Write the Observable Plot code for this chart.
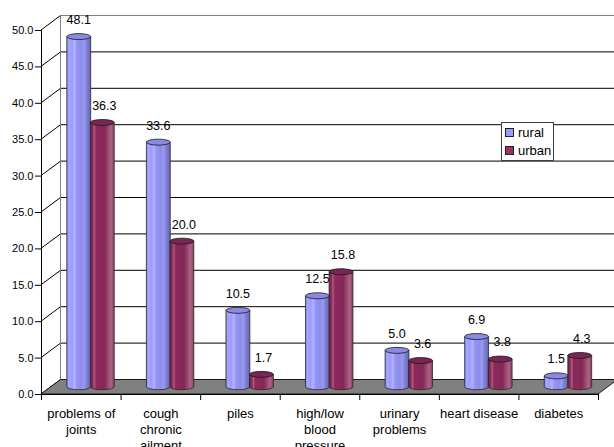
<!DOCTYPE html>
<html>
<head>
<meta charset="utf-8">
<script src="https://cdn.jsdelivr.net/npm/d3@7"></script>
<script src="https://cdn.jsdelivr.net/npm/@observablehq/plot@0.6"></script>
<style>
  body { margin: 0; background: #fff; font-family: "Liberation Sans", Arial, sans-serif; }
  #chart { position: relative; width: 614px; height: 447px; }
  .legend { position: absolute; left: 501px; top: 122px; width: 51px; height: 37px;
            border: 1px solid #404040; background: #fff; font-size: 13px; color: #000; }
  .legend .row { display: flex; align-items: center; height: 18px; padding-left: 3px; }
  .legend .sw { width: 7px; height: 7px; border: 1px solid #222; margin-right: 4px; }
</style>
</head>
<body>
<div id="chart"></div>
<script>
// Share of reported illness (%), rural vs urban
const categories = [
  "problems of\njoints",
  "cough\nchronic\nailment",
  "piles",
  "high/low\nblood\npressure",
  "urinary\nproblems",
  "heart disease",
  "diabetes"
];
const seriesNames = ["rural", "urban"];
const rural = [48.1, 33.6, 10.5, 12.5, 5.0, 6.9, 1.5];
const urban = [36.3, 20.0, 1.7, 15.8, 3.6, 3.8, 4.3];
const yTicks = [0, 5, 10, 15, 20, 25, 30, 35, 40, 45, 50];
const seriesColors = ["#9999ff", "#993366"];

const series = [rural, urban];

// depth of the 3-D box (pixel offset of the back plane)
const DX = 19.5, DY = -14.5;

// back wall, side wall gridlines and floor
function walls(index, {x, y}, values, {width}) {
  const g = d3.create("svg:g");
  const x0 = x(0), x1 = x(categories.length);
  const bx = x0 + DX;
  g.append("rect")
    .attr("x", bx).attr("y", y(50) + DY)
    .attr("width", width - bx).attr("height", y(0) - y(50))
    .attr("fill", "#fff");
  for (const t of yTicks.slice(1)) {
    g.append("line")
      .attr("x1", bx).attr("x2", width)
      .attr("y1", y(t) + DY).attr("y2", y(t) + DY)
      .attr("stroke", t === 50 ? "#808080" : "#000").attr("stroke-width", 1);
  }
  for (const t of yTicks) {
    g.append("line")
      .attr("x1", x0).attr("y1", y(t))
      .attr("x2", bx).attr("y2", y(t) + DY)
      .attr("stroke", "#000");
  }
  g.append("line")
    .attr("x1", bx).attr("x2", bx)
    .attr("y1", y(50) + DY).attr("y2", y(0) + DY)
    .attr("stroke", "#808080");
  g.append("polygon")
    .attr("points", [
      [x0, y(0)], [x1, y(0)], [x1 + DX, y(0) + DY], [x0 + DX, y(0) + DY]
    ].map(p => p.join(",")).join(" "))
    .attr("fill", "#808080")
    .attr("stroke", "#1a1a1a").attr("stroke-width", 1);
  return g.node();
}

// shaded cylinders with value labels
function cylinders(index, {x, y}) {
  const g = d3.create("svg:g");
  const defs = g.append("defs");
  const gradStops = [
    [[0, "#8686e8"], [0.08, "#a6a6ff"], [0.22, "#9c9cff"], [0.32, "#b2b2ff"], [0.42, "#9494f6"],
     [0.6, "#8c8ce8"], [0.72, "#9a9af2"], [0.84, "#7e7ed4"], [1, "#6666b4"]],
    [[0, "#74204c"], [0.1, "#8a2c5c"], [0.16, "#b4587f"], [0.24, "#8a2a5a"], [0.6, "#842858"],
     [0.74, "#9a4870"], [0.86, "#aa6484"], [1, "#8a3e64"]]
  ];
  gradStops.forEach((stops, s) => {
    const lg = defs.append("linearGradient").attr("id", "cyl-" + s)
      .attr("x1", 0).attr("x2", 1).attr("y1", 0).attr("y2", 0);
    for (const [o, c] of stops) lg.append("stop").attr("offset", o).attr("stop-color", c);
  });
  const topFill = ["#8a8ae4", "#7c2454"];
  const ry = 3;
  categories.forEach((c, i) => {
    const bl = x(i), bw = x(i + 1) - x(i);
    series.forEach((vals, s) => {
      const v = vals[i];
      const cx = bl + bw * (s ? 0.648 : 0.352) + DX / 2;
      const r = bw * 0.15;
      const yb = y(0) + DY / 2, yt = y(v) + DY / 2;
      g.append("path")
        .attr("d", `M${cx - r},${yt} L${cx - r},${yb} A${r},${ry} 0 0 0 ${cx + r},${yb} L${cx + r},${yt} Z`)
        .attr("fill", `url(#cyl-${s})`)
        .attr("stroke", "#2a2a2a").attr("stroke-width", 0.8);
      g.append("ellipse")
        .attr("cx", cx).attr("cy", yt).attr("rx", r).attr("ry", ry)
        .attr("fill", topFill[s])
        .attr("stroke", "#1a1a1a").attr("stroke-width", 0.8);
      g.append("text")
        .attr("x", cx + (s ? 2 : 0)).attr("y", yt - 17)
        .attr("dy", "0.35em")
        .attr("text-anchor", "middle")
        .attr("font-size", "12.5px")
        .attr("fill", "#000")
        .text(v.toFixed(1));
    });
  });
  return g.node();
}

const n = categories.length;
const chart = Plot.plot({
  width: 614,
  height: 447,
  marginLeft: 41,
  marginRight: 16,
  marginTop: 30,
  marginBottom: 53,
  style: { fontFamily: "Liberation Sans, Arial, sans-serif", fontSize: "11px", background: "#fff", overflow: "visible" },
  x: { type: "linear", domain: [0, n], label: null },
  y: { domain: [0, 50], label: null },
  marks: [
    walls,
    cylinders,
    Plot.ruleX([0], { y1: 0, y2: 50, stroke: "#000" }),
    Plot.ruleY([0], { x1: 0, x2: n, stroke: "#000" }),
    Plot.axisY(yTicks, { tickSize: 6, tickPadding: 2, tickFormat: d => d.toFixed(1), fontSize: 11, stroke: "#000", label: null }),
    Plot.axisX(d3.range(n + 1), { tickSize: 6, tickFormat: () => "", stroke: "#000", label: null }),
    Plot.axisX(d3.range(n).map(i => i + 0.5), {
      tickSize: 0, tickPadding: 12, fontSize: 13, lineHeight: 1.23,
      tickFormat: d => categories[Math.floor(d)], label: null
    })
  ]
});

const root = document.getElementById("chart");
root.append(chart);

// legend box
const legend = document.createElement("div");
legend.className = "legend";
seriesNames.forEach((name, s) => {
  const row = document.createElement("div");
  row.className = "row";
  const sw = document.createElement("span");
  sw.className = "sw";
  sw.style.background = seriesColors[s];
  const lab = document.createElement("span");
  lab.textContent = name;
  row.append(sw, lab);
  legend.append(row);
});
root.append(legend);
</script>
</body>
</html>
